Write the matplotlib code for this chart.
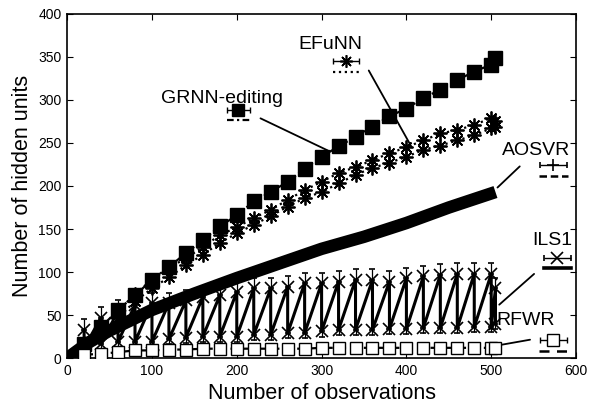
import numpy as np
import matplotlib
matplotlib.use("Agg")
import matplotlib.pyplot as plt

plt.rcParams['font.family'] = ['Liberation Sans', 'DejaVu Sans']

# observation counts where results were recorded
obs = [20, 40, 60, 80, 100, 120, 140, 160, 180, 200, 220, 240, 260,
       280, 300, 320, 340, 360, 380, 400, 420, 440, 460, 480, 500, 505]

grnn = [17, 36, 56, 73, 91, 106, 122, 137, 153, 166, 182, 193, 205,
        220, 234, 246, 257, 269, 281, 290, 302, 312, 323, 333, 341, 349]

efunn_hi = [18, 36, 54, 75, 91, 105, 116, 129, 143, 152, 163, 172, 184,
            195, 205, 215, 222, 230, 238, 245, 253, 261, 265, 271, 279, 275]
efunn_lo = [14, 30, 47, 66, 81, 94, 108, 120, 134, 145, 155, 165, 176,
            186, 193, 203, 213, 221, 227, 234, 242, 247, 253, 259, 267, 269]

ils1_hi = [33, 47, 55, 62, 64, 64, 67, 71, 73, 77, 81, 81, 83,
           87, 87, 89, 91, 91, 89, 93, 95, 97, 98, 98, 98, 81]
ils1_lo = [12, 16, 19, 19, 19, 22, 24, 25, 25, 25, 27, 27, 29,
           29, 31, 33, 33, 33, 34, 34, 35, 35, 35, 36, 36, 40]

rfwr = [4, 5, 7, 9, 9, 10, 10, 11, 11, 11, 11, 11, 11,
        11, 12, 12, 12, 12, 12, 12, 12, 12, 12, 12, 12, 12]

aosvr_x = [0, 25, 50, 100, 150, 200, 250, 300, 350, 400, 450, 505]
aosvr_y = [0, 18, 32, 56, 75, 93, 110, 127, 141, 157, 175, 193]

fig = plt.figure(figsize=(5.89, 4.07), dpi=100)
ax = fig.add_axes([0.114, 0.12, 0.864, 0.846])

# AOSVR thick band
ax.plot(aosvr_x, aosvr_y, color='k', lw=9, solid_capstyle='butt', zorder=2)

# GRNN-editing: filled squares, dash-dot line
ax.plot(obs, grnn, color='k', lw=1.6, ls=(0, (3, 1.5, 1, 1.5)), zorder=3)
ax.errorbar(obs, grnn, yerr=4, fmt='s', color='k', ms=9.5, elinewidth=1,
            capsize=3, zorder=4)

# EFuNN: asterisks, dotted line
ast = (8, 2, 0)
ax.plot(obs, efunn_hi, color='k', lw=1.6, ls=':', zorder=3)
ax.plot(obs, efunn_lo, color='k', lw=1.6, ls=':', zorder=3)
ax.plot(obs, efunn_hi, ls='none', marker=ast, ms=10, mec='k', mew=1.3, zorder=4)
ax.plot(obs, efunn_lo, ls='none', marker=ast, ms=10, mec='k', mew=1.3, zorder=4)

# ILS1: zigzag between high and low at each point
zx, zy = [], []
for x, h, l in zip(obs, ils1_hi, ils1_lo):
    zx += [x, x]
    zy += [h, l]
ax.plot(zx, zy, color='k', lw=2.2, zorder=3)
ax.errorbar(obs, ils1_hi, yerr=[[0] * len(obs), [12] * len(obs)], fmt='x',
            color='k', ms=9, mew=1.2, elinewidth=0.9, capsize=2.5, zorder=4)
ax.errorbar(obs, ils1_lo, yerr=[[6] * len(obs), [0] * len(obs)], fmt='x',
            color='k', ms=9, mew=1.2, elinewidth=0.9, capsize=2.5, zorder=4)

# RFWR: open squares with horizontal bars
ax.plot(obs, rfwr, color='k', lw=1.6, ls=(0, (4, 2)), zorder=3)
ax.errorbar(obs, rfwr, xerr=6, fmt='s', color='k', mfc='white', ms=9,
            mew=1, elinewidth=1.6, capsize=0, zorder=5)

# labels with pointer lines and sample keys
line_kw = dict(arrowprops=dict(arrowstyle='-', color='k', lw=1.3),
               fontsize=14, ha='center', va='center')
txt_kw = dict(fontsize=14, ha='center', va='center')
ax.annotate('GRNN-editing', xy=(183, 302), **txt_kw)
ax.annotate('', xy=(310, 240), xytext=(225, 280), **line_kw)
ax.errorbar([202], [288], xerr=13, fmt='s', color='k', ms=8, elinewidth=1,
            capsize=2, ecolor='k', ls='none')
ax.plot([189, 215], [277, 277], color='k', lw=1.6, ls=(0, (3, 1.5, 1, 1.5)))

ax.annotate('EFuNN', xy=(310, 364), **txt_kw)
ax.annotate('', xy=(408, 242), xytext=(354, 337), **line_kw)
ax.errorbar([329], [345], xerr=15, fmt='none', ecolor='k', elinewidth=1,
            capsize=2)
ax.plot([329], [345], ls='none', marker=ast, ms=9, mec='k', mew=1.2)
ax.plot([314, 344], [333, 333], color='k', lw=1.6, ls=':')

ax.annotate('AOSVR', xy=(553, 241), **txt_kw)
ax.annotate('', xy=(505, 196), xytext=(536, 225), **line_kw)
ax.errorbar([573], [224], xerr=16, fmt='+', color='k', ms=9, mew=1.2,
            elinewidth=1, capsize=2)
ax.plot([556, 590], [212, 212], color='k', lw=1.8, ls=(0, (3, 1.5)))

ax.annotate('ILS1', xy=(572, 137), **txt_kw)
ax.annotate('', xy=(507, 60), xytext=(553, 100), **line_kw)
ax.errorbar([578], [116], xerr=16, fmt='x', color='k', ms=9, mew=1.2,
            elinewidth=1, capsize=2)
ax.plot([562, 594], [105, 105], color='k', lw=2.6)

ax.annotate('RFWR', xy=(540, 44), **txt_kw)
ax.annotate('', xy=(503, 14), xytext=(549, 22), **line_kw)
ax.errorbar([573], [21], xerr=16, fmt='s', color='k', mfc='white', ms=8,
            mew=1, elinewidth=1, capsize=2)
ax.plot([556, 590], [8, 8], color='k', lw=1.8, ls=(0, (4, 3)))

ax.set_xlim(0, 600)
ax.set_ylim(0, 400)
ax.set_xticks([0, 100, 200, 300, 400, 500, 600])
ax.set_yticks([0, 50, 100, 150, 200, 250, 300, 350, 400])
ax.tick_params(direction='in', top=True, right=True, length=4, labelsize=10,
               pad=4)
for s in ax.spines.values():
    s.set_linewidth(1.2)
ax.set_xlabel('Number of observations', fontsize=15.5, labelpad=4)
ax.set_ylabel('Number of hidden units', fontsize=15.5, labelpad=4)

fig.savefig('out.png', dpi=100)
